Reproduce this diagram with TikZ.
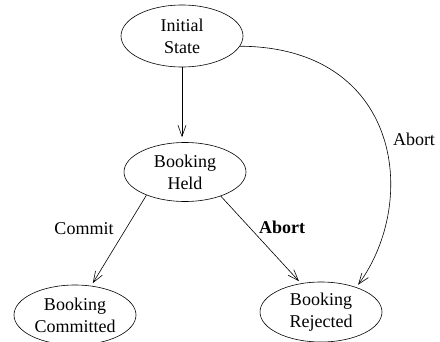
\documentclass[tikz,border=0pt]{standalone}
\usepackage{fontspec}
\setmainfont{Liberation Serif}
\usetikzlibrary{shapes.geometric,arrows.meta}
\begin{document}
\begin{tikzpicture}[x=1pt,y=-1pt,
  bstate/.style={draw,ellipse,line width=0.6pt,inner sep=0pt,minimum width=122pt,
    minimum height=60pt,align=center,font=\fontsize{18}{22}\selectfont},
  trans/.style={line width=0.6pt,-{Straight Barb[length=11pt,width=8pt]}},
  lbl/.style={font=\fontsize{18}{22}\selectfont}]
\useasboundingbox (0,0) rectangle (440,342);
\node[bstate,minimum height=62pt] (init) at (182,36) {Initial\\State};
\node[bstate,minimum height=59pt] (held) at (185,172) {Booking\\Held};
\node[bstate] (com) at (75,315) {Booking\\Committed};
\node[bstate] (rej) at (321,312) {Booking\\Rejected};
\draw[trans,shorten >=5pt] (init.south) -- (init.south |- held.north);
\draw[trans,shorten >=3pt] (held.211) -- (com.61);
\draw[trans,shorten >=3pt] (held.326) -- (rej.125);
\draw[trans,shorten >=3pt] (init.-10) .. controls (400,47) and (420,200) .. (rej.35);
\node[lbl] at (84,229) {Commit};
\node[lbl] at (282,227) {\textbf{Abort}};
\node[lbl] at (414,139) {Abort};
\end{tikzpicture}
\end{document}
